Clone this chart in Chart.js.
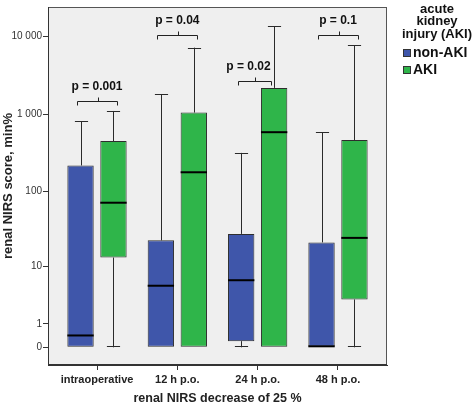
<!DOCTYPE html>
<html>
<head>
<meta charset="utf-8">
<script src="https://cdn.jsdelivr.net/npm/chart.js@4/dist/chart.umd.min.js"></script>
<style>
  html, body { margin: 0; padding: 0; background: #ffffff; }
  canvas { display: block; }
</style>
</head>
<body>
<canvas id="c" width="472" height="405"></canvas>
<script>
// ---- data ----
const categories = ['intraoperative', '12 h p.o.', '24 h p.o.', '48 h p.o.'];
const seriesNames = ['non-AKI', 'AKI'];

const nonAkiMin    = [0, 0, 0, 0];
const nonAkiQ1     = [0, 0, 0.2, 0];
const nonAkiMedian = [0.42, 5.2, 6.3, 0];
const nonAkiQ3     = [218, 22.8, 27.8, 21.4];
const nonAkiMax    = [815, 1820, 317, 586];

const akiMin    = [0, 0, 0, 0];
const akiQ1     = [13.3, 0, 0, 3.13];
const akiMedian = [71.6, 178, 586, 24.6];
const akiQ3     = [450, 1050, 2180, 464];
const akiMax    = [1100, 7190, 13500, 7690];

const yTickValues = [0, 1, 10, 100, 1000, 10000];
const yTickLabels = ['0', '1', '10', '100', '1 000', '10 000'];

const pLabels = ['p = 0.001', 'p = 0.04', 'p = 0.02', 'p = 0.1'];
const pBracketValues = [1460, 10600, 2690, 10600];

const legendTitle = ['acute', 'kidney', 'injury (AKI)'];

// ---- helpers ----
const FONT = "'Liberation Sans', Arial, sans-serif";
const tf = v => Math.log10(v + 1);   // axis transform log10(x+1)

const stats = [
  {min: nonAkiMin, q1: nonAkiQ1, med: nonAkiMedian, q3: nonAkiQ3, max: nonAkiMax},
  {min: akiMin, q1: akiQ1, med: akiMedian, q3: akiQ3, max: akiMax}
];
const colors = ['#3f56aa', '#2fb54a'];

const datasets = stats.map((s, d) => ({
  label: seriesNames[d],
  data: categories.map((c, i) => ({x: i, y: [tf(s.q1[i]), tf(s.q3[i])]})),
  backgroundColor: colors[d],
  borderColor: '#2e2e2e',
  borderWidth: 1,
  borderSkipped: false,
  categoryPercentage: 0.82,
  barPercentage: 0.8
}));

// bracket spans in category units relative to the category index
const bracketSpans = [[-0.25, 0.25], [-0.25, 0.25], [-0.25, 0.16], [-0.25, 0.25]];
const bracketTextShift = [0, 0, -0.07, 0];

const bgPlugin = {
  id: 'bg',
  beforeDraw(chart) {
    const {ctx, chartArea: a} = chart;
    ctx.save();
    ctx.fillStyle = '#ffffff';
    ctx.fillRect(0, 0, chart.width, chart.height);
    ctx.fillStyle = '#efefef';
    ctx.fillRect(a.left, a.top, a.right - a.left, a.bottom - a.top);
    ctx.restore();
  },
  afterDraw(chart) {
    const {ctx, chartArea: a} = chart;
    ctx.save();
    ctx.strokeStyle = '#555';
    ctx.lineWidth = 1;
    ctx.strokeRect(a.left + 0.5, a.top + 0.5, a.right - a.left - 1, a.bottom - a.top - 1);
    ctx.strokeStyle = '#333';
    ctx.beginPath();
    ctx.moveTo(a.left, a.bottom - 0.5); ctx.lineTo(a.right, a.bottom - 0.5);
    ctx.moveTo(a.left + 0.5, a.top); ctx.lineTo(a.left + 0.5, a.bottom);
    ctx.stroke();
    ctx.restore();
  }
};

const boxPlugin = {
  id: 'boxes',
  afterDatasetsDraw(chart) {
    const {ctx} = chart;
    const y = chart.scales.y;
    ctx.save();
    stats.forEach((s, d) => {
      const meta = chart.getDatasetMeta(d);
      meta.data.forEach((el, i) => {
        const x = Math.round(el.x) + 0.5;
        const w = el.width;
        const cap = w / 4;
        ctx.strokeStyle = '#2a2a2a';
        ctx.lineWidth = 1;
        ctx.beginPath();
        if (s.max[i] > s.q3[i]) {
          const pt = y.getPixelForValue(tf(s.max[i]));
          const pq = y.getPixelForValue(tf(s.q3[i]));
          ctx.moveTo(x, pq); ctx.lineTo(x, pt);
          ctx.moveTo(x - cap, Math.round(pt) + 0.5); ctx.lineTo(x + cap, Math.round(pt) + 0.5);
        }
        if (s.min[i] < s.q1[i]) {
          const pb = y.getPixelForValue(tf(s.min[i]));
          const pq = y.getPixelForValue(tf(s.q1[i]));
          ctx.moveTo(x, pq); ctx.lineTo(x, pb);
          ctx.moveTo(x - cap, Math.round(pb) - 0.5); ctx.lineTo(x + cap, Math.round(pb) - 0.5);
        }
        ctx.stroke();
        // median
        const pm = y.getPixelForValue(tf(s.med[i]));
        ctx.strokeStyle = '#000';
        ctx.lineWidth = 2;
        ctx.beginPath();
        ctx.moveTo(el.x - w / 2, Math.min(pm, y.getPixelForValue(tf(s.q1[i])) - 1));
        ctx.lineTo(el.x + w / 2, Math.min(pm, y.getPixelForValue(tf(s.q1[i])) - 1));
        ctx.stroke();
      });
    });
    // p-value brackets
    const xs = chart.scales.x;
    ctx.strokeStyle = '#222';
    ctx.lineWidth = 1;
    ctx.fillStyle = '#111';
    ctx.font = 'bold 12px ' + FONT;
    ctx.textAlign = 'center';
    ctx.textBaseline = 'middle';
    pLabels.forEach((lab, i) => {
      const l = Math.round(xs.getPixelForValue(i + bracketSpans[i][0])) + 0.5;
      const r = Math.round(xs.getPixelForValue(i + bracketSpans[i][1])) + 0.5;
      const m = Math.round((l + r) / 2) + 0.5;
      const py = Math.round(y.getPixelForValue(tf(pBracketValues[i]))) + 0.5;
      ctx.beginPath();
      ctx.moveTo(l, py + 4); ctx.lineTo(l, py); ctx.lineTo(r, py); ctx.lineTo(r, py + 4);
      ctx.moveTo(m, py); ctx.lineTo(m, py - 4);
      ctx.stroke();
      const tx = xs.getPixelForValue(i + (bracketSpans[i][0] + bracketSpans[i][1]) / 2 + bracketTextShift[i]);
      ctx.fillText(lab, tx, py - 15);
    });
    ctx.restore();
  }
};

const legendPlugin = {
  id: 'sideLegend',
  afterDraw(chart) {
    const {ctx} = chart;
    ctx.save();
    ctx.fillStyle = '#111';
    ctx.font = 'bold 13px ' + FONT;
    ctx.textAlign = 'center';
    ctx.textBaseline = 'middle';
    legendTitle.forEach((t, k) => ctx.fillText(t, 437, 9 + k * 12.5));
    ctx.textAlign = 'left';
    ctx.font = 'bold 14px ' + FONT;
    chart.data.datasets.forEach((ds, d) => {
      const ty = 53 + d * 17;
      ctx.fillStyle = ds.backgroundColor;
      ctx.fillRect(403, ty - 4, 8, 8);
      ctx.strokeStyle = '#333';
      ctx.lineWidth = 1;
      ctx.strokeRect(403.5, ty - 3.5, 7, 7);
      ctx.fillStyle = '#111';
      ctx.fillText(ds.label, 413, ty);
    });
    ctx.restore();
  }
};

new Chart(document.getElementById('c'), {
  type: 'bar',
  data: {datasets},
  plugins: [bgPlugin, boxPlugin, legendPlugin],
  options: {
    responsive: false,
    animation: false,
    devicePixelRatio: 1,
    layout: {padding: {top: 1, right: 85, left: 0, bottom: 0}},
    plugins: {legend: {display: false}, tooltip: {enabled: false}, title: {display: false}},
    scales: {
      x: {
        type: 'linear',
        position: 'bottom',
        min: -0.61,
        max: 3.61,
        offset: false,
        afterBuildTicks: s => { s.ticks = categories.map((c, i) => ({value: i})); },
        afterFit: s => { s.height = 40; },
        grid: {display: true, drawOnChartArea: false, drawTicks: true, tickLength: 5, color: '#333', offset: false},
        border: {display: true, color: '#333'},
        ticks: {
          autoSkip: false, maxRotation: 0, padding: 3, color: '#222',
          font: {family: FONT, size: 11, weight: 'bold'},
          callback: v => categories[v]
        },
        title: {
          display: true, text: 'renal NIRS decrease of 25 %', color: '#222',
          font: {family: FONT, size: 12.5, weight: 'bold', lineHeight: 1},
          padding: {top: 0, bottom: 0}
        }
      },
      y: {
        type: 'linear',
        min: -0.2278,
        max: 4.38,
        afterBuildTicks: s => { s.ticks = yTickValues.map(v => ({value: tf(v)})); },
        afterFit: s => { s.width = 48; },
        grid: {display: true, drawOnChartArea: false, drawTicks: true, tickLength: 5, color: '#333'},
        border: {display: true, color: '#333'},
        ticks: {
          padding: 1, color: '#333',
          font: {family: FONT, size: 10},
          callback: (v, idx) => yTickLabels[idx]
        },
        title: {
          display: true, text: 'renal NIRS score, min%', color: '#222',
          font: {family: FONT, size: 13, weight: 'bold', lineHeight: 1},
          padding: {top: 1.5, bottom: 0}
        }
      }
    }
  }
});
</script>
</body>
</html>
